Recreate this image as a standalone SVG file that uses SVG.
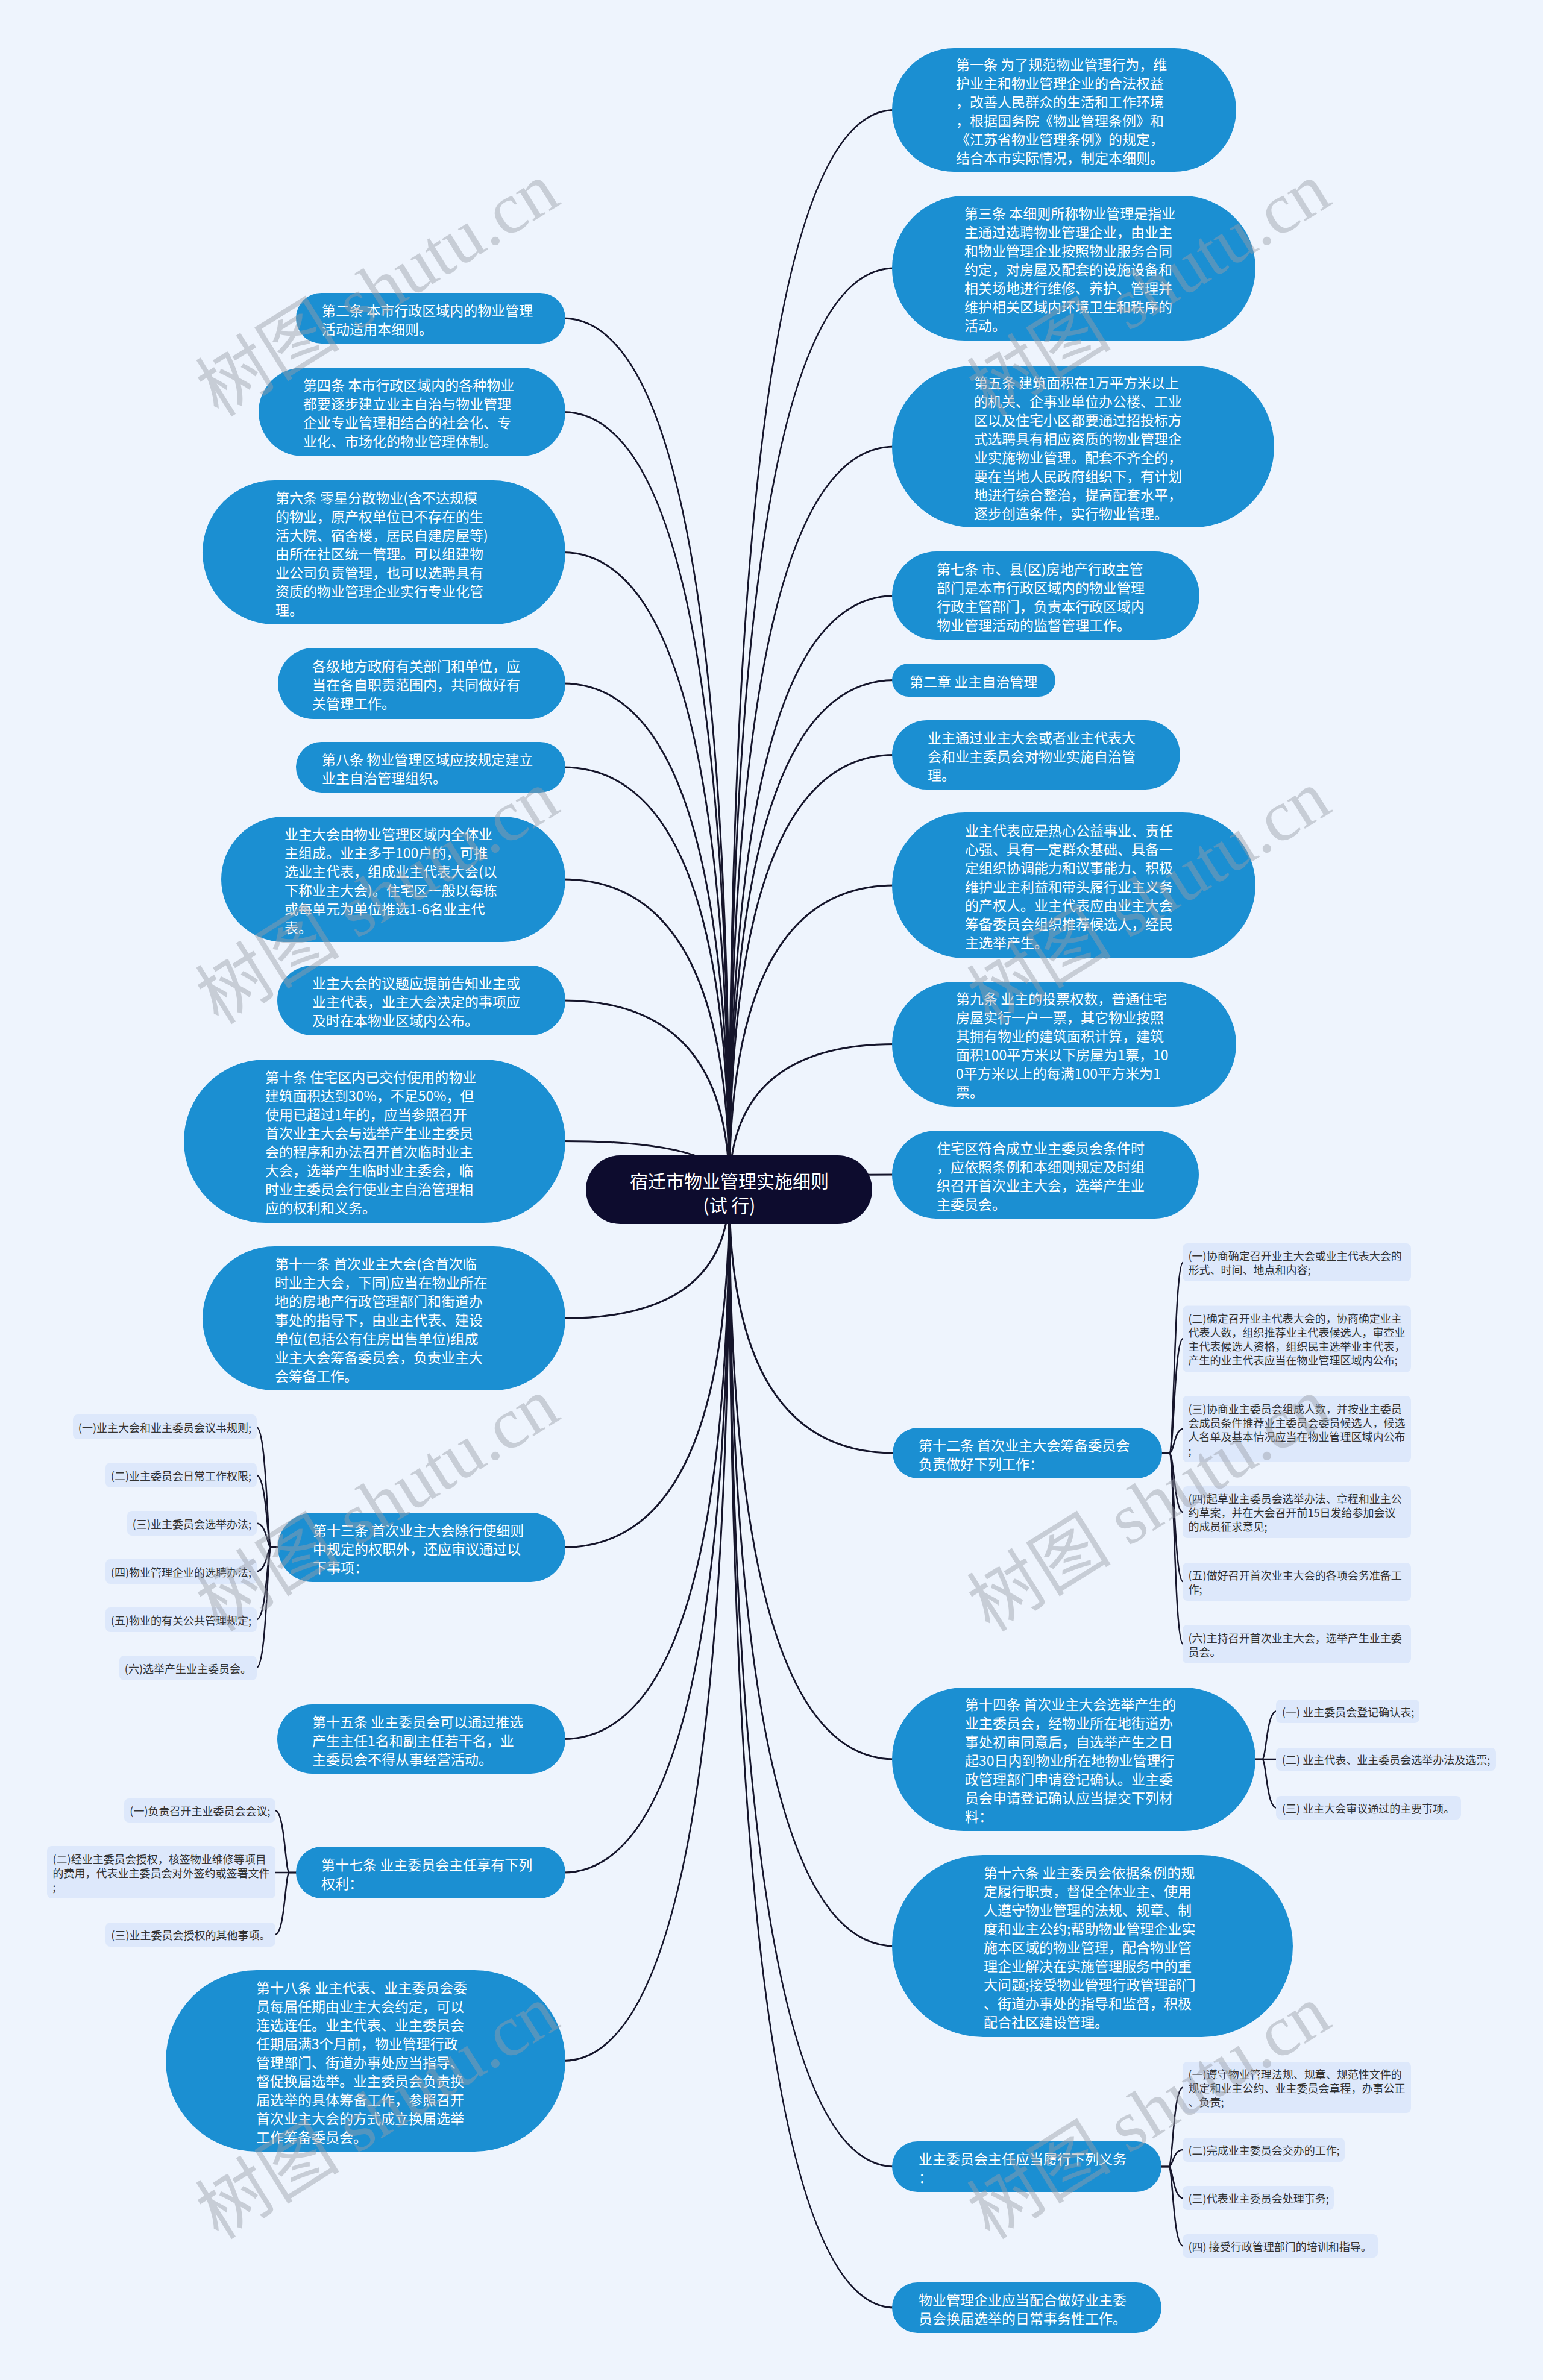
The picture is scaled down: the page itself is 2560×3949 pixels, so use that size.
<svg xmlns="http://www.w3.org/2000/svg" width="2560" height="3949" viewBox="0 0 2560 3949">
<style>
.bg{fill:#eef4fd}
.nd{fill:#1b8fd2}
.rt{fill:#0d0c2e}
.cb{fill:#dde8fb}
.ln{fill:none;stroke:#15152b;stroke-width:3;stroke-linecap:round}
.bl{fill:none;stroke:#15152b;stroke-width:2.5;stroke-linecap:round}
text{font-family:"Noto Sans CJK SC","Noto Sans",sans-serif;dominant-baseline:central}
.nt{fill:#ffffff;font-size:23px}
.rtt{fill:#ffffff;font-size:30px;text-anchor:middle}
.ct{fill:#333333;font-size:18px}
.ce{fill:#333333;font-size:18px;text-anchor:end}
.wm{font-family:"Liberation Serif","Noto Sans CJK SC",serif;font-size:120px;fill:#9a9ea8;opacity:0.45;text-anchor:middle;dominant-baseline:alphabetic}
</style>
<rect class="bg" x="0" y="0" width="2560" height="3949"/>
<g id="connectors">
<path class="ln" d="M1210 1974 Q1210 182.5 1484 182.5"/>
<path class="ln" d="M1210 1974 Q1210 445 1484 445"/>
<path class="ln" d="M1210 1974 Q1210 741 1484 741"/>
<path class="ln" d="M1210 1974 Q1210 988.5 1484 988.5"/>
<path class="ln" d="M1210 1974 Q1210 1128.5 1484 1128.5"/>
<path class="ln" d="M1210 1974 Q1210 1252.5 1484 1252.5"/>
<path class="ln" d="M1210 1974 Q1210 1469 1484 1469"/>
<path class="ln" d="M1210 1974 Q1210 1732.5 1484 1732.5"/>
<path class="ln" d="M1210 1974 Q1210 1949 1484 1949"/>
<path class="ln" d="M1210 1974 Q1210 2411 1484 2411"/>
<path class="ln" d="M1210 1974 Q1210 2919 1484 2919"/>
<path class="ln" d="M1210 1974 Q1210 3229 1484 3229"/>
<path class="ln" d="M1210 1974 Q1210 3595 1484 3595"/>
<path class="ln" d="M1210 1974 Q1210 3829 1484 3829"/>
<path class="ln" d="M1210 1974 Q1210 528 934 528"/>
<path class="ln" d="M1210 1974 Q1210 683.5 934 683.5"/>
<path class="ln" d="M1210 1974 Q1210 916.5 934 916.5"/>
<path class="ln" d="M1210 1974 Q1210 1134 934 1134"/>
<path class="ln" d="M1210 1974 Q1210 1273 934 1273"/>
<path class="ln" d="M1210 1974 Q1210 1459 934 1459"/>
<path class="ln" d="M1210 1974 Q1210 1660 934 1660"/>
<path class="ln" d="M1210 1974 Q1210 1893.5 934 1893.5"/>
<path class="ln" d="M1210 1974 Q1210 2187.5 934 2187.5"/>
<path class="ln" d="M1210 1974 Q1210 2567.5 934 2567.5"/>
<path class="ln" d="M1210 1974 Q1210 2885.5 934 2885.5"/>
<path class="ln" d="M1210 1974 Q1210 3107 934 3107"/>
<path class="ln" d="M1210 1974 Q1210 3419.5 934 3419.5"/>
<path class="bl" d="M1926 2411 H1940 C1948 2411 1948 2094.5 1963 2094.5"/>
<path class="bl" d="M1926 2411 H1940 C1948 2411 1948 2221 1963 2221"/>
<path class="bl" d="M1926 2411 H1940 C1948 2411 1948 2371 1963 2371"/>
<path class="bl" d="M1926 2411 H1940 C1948 2411 1948 2509 1963 2509"/>
<path class="bl" d="M1926 2411 H1940 C1948 2411 1948 2624.5 1963 2624.5"/>
<path class="bl" d="M1926 2411 H1940 C1948 2411 1948 2728 1963 2728"/>
<path class="bl" d="M2081 2919 H2094 C2101 2919 2101 2839.5 2118 2839.5"/>
<path class="bl" d="M2081 2919 H2118"/>
<path class="bl" d="M2081 2919 H2094 C2101 2919 2101 2999.5 2118 2999.5"/>
<path class="bl" d="M1925 3595 H1939 C1946 3595 1946 3463.5 1963 3463.5"/>
<path class="bl" d="M1925 3595 H1939 C1946 3595 1946 3567 1963 3567"/>
<path class="bl" d="M1925 3595 H1939 C1946 3595 1946 3647 1963 3647"/>
<path class="bl" d="M1925 3595 H1939 C1946 3595 1946 3726.5 1963 3726.5"/>
<path class="bl" d="M463 2567.5 H450 C443 2567.5 443 2367.5 425 2367.5"/>
<path class="bl" d="M463 2567.5 H450 C443 2567.5 443 2447.5 425 2447.5"/>
<path class="bl" d="M463 2567.5 H450 C443 2567.5 443 2527.5 425 2527.5"/>
<path class="bl" d="M463 2567.5 H450 C443 2567.5 443 2607.5 425 2607.5"/>
<path class="bl" d="M463 2567.5 H450 C443 2567.5 443 2687.5 425 2687.5"/>
<path class="bl" d="M463 2567.5 H450 C443 2567.5 443 2767.5 425 2767.5"/>
<path class="bl" d="M493 3107 H480 C473 3107 473 3004 456 3004"/>
<path class="bl" d="M493 3107 H456"/>
<path class="bl" d="M493 3107 H480 C473 3107 473 3210 456 3210"/>
</g>
<g id="root">
<rect class="rt" x="972" y="1917" width="475" height="114" rx="57"/>
<text class="rtt"><tspan x="1210" y="1958">宿迁市物业管理实施细则</tspan><tspan x="1210" y="1998">(试 行)</tspan></text>
</g>
<g id="r1">
<rect class="nd" x="1480" y="80" width="571" height="205" rx="102.5"/>
<text class="nt"><tspan x="1586" y="106">第一条 为了规范物业管理行为，维</tspan><tspan x="1586" y="137">护业主和物业管理企业的合法权益</tspan><tspan x="1586" y="168">，改善人民群众的生活和工作环境</tspan><tspan x="1586" y="199">，根据国务院《物业管理条例》和</tspan><tspan x="1586" y="230">《江苏省物业管理条例》的规定，</tspan><tspan x="1586" y="261">结合本市实际情况，制定本细则。</tspan></text>
</g>
<g id="r2">
<rect class="nd" x="1480" y="325" width="603" height="240" rx="120"/>
<text class="nt"><tspan x="1600" y="353">第三条 本细则所称物业管理是指业</tspan><tspan x="1600" y="384">主通过选聘物业管理企业，由业主</tspan><tspan x="1600" y="415">和物业管理企业按照物业服务合同</tspan><tspan x="1600" y="446">约定，对房屋及配套的设施设备和</tspan><tspan x="1600" y="477">相关场地进行维修、养护、管理并</tspan><tspan x="1600" y="508">维护相关区域内环境卫生和秩序的</tspan><tspan x="1600" y="539">活动。</tspan></text>
</g>
<g id="r3">
<rect class="nd" x="1480" y="607" width="634" height="268" rx="134"/>
<text class="nt"><tspan x="1616" y="633.5">第五条 建筑面积在1万平方米以上</tspan><tspan x="1616" y="664.5">的机关、企事业单位办公楼、工业</tspan><tspan x="1616" y="695.5">区以及住宅小区都要通过招投标方</tspan><tspan x="1616" y="726.5">式选聘具有相应资质的物业管理企</tspan><tspan x="1616" y="757.5">业实施物业管理。配套不齐全的，</tspan><tspan x="1616" y="788.5">要在当地人民政府组织下，有计划</tspan><tspan x="1616" y="819.5">地进行综合整治，提高配套水平，</tspan><tspan x="1616" y="850.5">逐步创造条件，实行物业管理。</tspan></text>
</g>
<g id="r4">
<rect class="nd" x="1480" y="915" width="510" height="147" rx="73.5"/>
<text class="nt"><tspan x="1554" y="943">第七条 市、县(区)房地产行政主管</tspan><tspan x="1554" y="974">部门是本市行政区域内的物业管理</tspan><tspan x="1554" y="1005">行政主管部门，负责本行政区域内</tspan><tspan x="1554" y="1036">物业管理活动的监督管理工作。</tspan></text>
</g>
<g id="r5">
<rect class="nd" x="1480" y="1101" width="271" height="55" rx="27.5"/>
<text class="nt"><tspan x="1509" y="1129.5">第二章 业主自治管理</tspan></text>
</g>
<g id="r6">
<rect class="nd" x="1480" y="1195" width="478" height="115" rx="57.5"/>
<text class="nt"><tspan x="1539" y="1222.5">业主通过业主大会或者业主代表大</tspan><tspan x="1539" y="1253.5">会和业主委员会对物业实施自治管</tspan><tspan x="1539" y="1284.5">理。</tspan></text>
</g>
<g id="r7">
<rect class="nd" x="1480" y="1348" width="603" height="242" rx="121"/>
<text class="nt"><tspan x="1601" y="1377">业主代表应是热心公益事业、责任</tspan><tspan x="1601" y="1408">心强、具有一定群众基础、具备一</tspan><tspan x="1601" y="1439">定组织协调能力和议事能力、积极</tspan><tspan x="1601" y="1470">维护业主利益和带头履行业主义务</tspan><tspan x="1601" y="1501">的产权人。业主代表应由业主大会</tspan><tspan x="1601" y="1532">筹备委员会组织推荐候选人，经民</tspan><tspan x="1601" y="1563">主选举产生。</tspan></text>
</g>
<g id="r8">
<rect class="nd" x="1480" y="1629" width="571" height="207" rx="103.5"/>
<text class="nt"><tspan x="1586" y="1656">第九条 业主的投票权数，普通住宅</tspan><tspan x="1586" y="1687">房屋实行一户一票，其它物业按照</tspan><tspan x="1586" y="1718">其拥有物业的建筑面积计算，建筑</tspan><tspan x="1586" y="1749">面积100平方米以下房屋为1票，10</tspan><tspan x="1586" y="1780">0平方米以上的每满100平方米为1</tspan><tspan x="1586" y="1811">票。</tspan></text>
</g>
<g id="r9">
<rect class="nd" x="1480" y="1876" width="509" height="146" rx="73"/>
<text class="nt"><tspan x="1554" y="1903.5">住宅区符合成立业主委员会条件时</tspan><tspan x="1554" y="1934.5">，应依照条例和本细则规定及时组</tspan><tspan x="1554" y="1965.5">织召开首次业主大会，选举产生业</tspan><tspan x="1554" y="1996.5">主委员会。</tspan></text>
</g>
<g id="r10">
<rect class="nd" x="1481" y="2369" width="447" height="84" rx="42"/>
<text class="nt"><tspan x="1524" y="2396.5">第十二条 首次业主大会筹备委员会</tspan><tspan x="1524" y="2427.5">负责做好下列工作：</tspan></text>
</g>
<g id="r10c1">
<rect class="cb" x="1962" y="2063" width="379" height="63" rx="8"/>
<text class="ct"><tspan x="1971.5" y="2083">(一)协商确定召开业主大会或业主代表大会的</tspan><tspan x="1971.5" y="2106">形式、时间、地点和内容;</tspan></text>
</g>
<g id="r10c2">
<rect class="cb" x="1962" y="2166.5" width="379" height="110" rx="8"/>
<text class="ct"><tspan x="1971.5" y="2187">(二)确定召开业主代表大会的，协商确定业主</tspan><tspan x="1971.5" y="2210">代表人数，组织推荐业主代表候选人，审查业</tspan><tspan x="1971.5" y="2233">主代表候选人资格，组织民主选举业主代表，</tspan><tspan x="1971.5" y="2256">产生的业主代表应当在物业管理区域内公布;</tspan></text>
</g>
<g id="r10c3">
<rect class="cb" x="1962" y="2316" width="379" height="110" rx="8"/>
<text class="ct"><tspan x="1971.5" y="2336.5">(三)协商业主委员会组成人数，并按业主委员</tspan><tspan x="1971.5" y="2359.5">会成员条件推荐业主委员会委员候选人，候选</tspan><tspan x="1971.5" y="2382.5">人名单及基本情况应当在物业管理区域内公布</tspan><tspan x="1971.5" y="2405.5">;</tspan></text>
</g>
<g id="r10c4">
<rect class="cb" x="1962" y="2466" width="379" height="86" rx="8"/>
<text class="ct"><tspan x="1971.5" y="2486">(四)起草业主委员会选举办法、章程和业主公</tspan><tspan x="1971.5" y="2509">约草案，并在大会召开前15日发给参加会议</tspan><tspan x="1971.5" y="2532">的成员征求意见;</tspan></text>
</g>
<g id="r10c5">
<rect class="cb" x="1962" y="2593" width="379" height="63" rx="8"/>
<text class="ct"><tspan x="1971.5" y="2613">(五)做好召开首次业主大会的各项会务准备工</tspan><tspan x="1971.5" y="2636">作;</tspan></text>
</g>
<g id="r10c6">
<rect class="cb" x="1962" y="2696" width="379" height="64" rx="8"/>
<text class="ct"><tspan x="1971.5" y="2716.5">(六)主持召开首次业主大会，选举产生业主委</tspan><tspan x="1971.5" y="2739.5">员会。</tspan></text>
</g>
<g id="r11">
<rect class="nd" x="1480" y="2800" width="603" height="238" rx="119"/>
<text class="nt"><tspan x="1601" y="2827">第十四条 首次业主大会选举产生的</tspan><tspan x="1601" y="2858">业主委员会，经物业所在地街道办</tspan><tspan x="1601" y="2889">事处初审同意后，自选举产生之日</tspan><tspan x="1601" y="2920">起30日内到物业所在地物业管理行</tspan><tspan x="1601" y="2951">政管理部门申请登记确认。业主委</tspan><tspan x="1601" y="2982">员会申请登记确认应当提交下列材</tspan><tspan x="1601" y="3013">料：</tspan></text>
</g>
<g id="r11c1">
<rect class="cb" x="2117" y="2820" width="238" height="39" rx="8"/>
<text class="ct"><tspan x="2127" y="2839.5">(一) 业主委员会登记确认表;</tspan></text>
</g>
<g id="r11c2">
<rect class="cb" x="2117" y="2900" width="365" height="38" rx="8"/>
<text class="ct"><tspan x="2127" y="2919">(二) 业主代表、业主委员会选举办法及选票;</tspan></text>
</g>
<g id="r11c3">
<rect class="cb" x="2117" y="2980" width="307" height="39" rx="8"/>
<text class="ct"><tspan x="2127" y="2999.5">(三) 业主大会审议通过的主要事项。</tspan></text>
</g>
<g id="r12">
<rect class="nd" x="1480" y="3078" width="665" height="302" rx="151"/>
<text class="nt"><tspan x="1632" y="3106">第十六条 业主委员会依据条例的规</tspan><tspan x="1632" y="3137">定履行职责，督促全体业主、使用</tspan><tspan x="1632" y="3168">人遵守物业管理的法规、规章、制</tspan><tspan x="1632" y="3199">度和业主公约;帮助物业管理企业实</tspan><tspan x="1632" y="3230">施本区域的物业管理，配合物业管</tspan><tspan x="1632" y="3261">理企业解决在实施管理服务中的重</tspan><tspan x="1632" y="3292">大问题;接受物业管理行政管理部门</tspan><tspan x="1632" y="3323">、街道办事处的指导和监督，积极</tspan><tspan x="1632" y="3354">配合社区建设管理。</tspan></text>
</g>
<g id="r13">
<rect class="nd" x="1480" y="3553" width="447" height="84" rx="42"/>
<text class="nt"><tspan x="1524" y="3580.5">业主委员会主任应当履行下列义务</tspan><tspan x="1524" y="3611.5">：</tspan></text>
</g>
<g id="r13c1">
<rect class="cb" x="1962" y="3421" width="379" height="85" rx="8"/>
<text class="ct"><tspan x="1971.5" y="3440.5">(一)遵守物业管理法规、规章、规范性文件的</tspan><tspan x="1971.5" y="3463.5">规定和业主公约、业主委员会章程，办事公正</tspan><tspan x="1971.5" y="3486.5">、负责;</tspan></text>
</g>
<g id="r13c2">
<rect class="cb" x="1962" y="3547" width="269" height="40" rx="8"/>
<text class="ct"><tspan x="1971.5" y="3567">(二)完成业主委员会交办的工作;</tspan></text>
</g>
<g id="r13c3">
<rect class="cb" x="1962" y="3627" width="251" height="40" rx="8"/>
<text class="ct"><tspan x="1971.5" y="3647">(三)代表业主委员会处理事务;</tspan></text>
</g>
<g id="r13c4">
<rect class="cb" x="1962" y="3707" width="324" height="39" rx="8"/>
<text class="ct"><tspan x="1971.5" y="3726.5">(四) 接受行政管理部门的培训和指导。</tspan></text>
</g>
<g id="r14">
<rect class="nd" x="1480" y="3787" width="447" height="84" rx="42"/>
<text class="nt"><tspan x="1524" y="3814.5">物业管理企业应当配合做好业主委</tspan><tspan x="1524" y="3845.5">员会换届选举的日常事务性工作。</tspan></text>
</g>
<g id="l1">
<rect class="nd" x="491" y="486" width="447" height="84" rx="42"/>
<text class="nt"><tspan x="534" y="513.5">第二条 本市行政区域内的物业管理</tspan><tspan x="534" y="544.5">活动适用本细则。</tspan></text>
</g>
<g id="l2">
<rect class="nd" x="429" y="610" width="509" height="147" rx="73.5"/>
<text class="nt"><tspan x="503" y="638">第四条 本市行政区域内的各种物业</tspan><tspan x="503" y="669">都要逐步建立业主自治与物业管理</tspan><tspan x="503" y="700">企业专业管理相结合的社会化、专</tspan><tspan x="503" y="731">业化、市场化的物业管理体制。</tspan></text>
</g>
<g id="l3">
<rect class="nd" x="336" y="797" width="602" height="239" rx="119.5"/>
<text class="nt"><tspan x="457" y="824.5">第六条 零星分散物业(含不达规模</tspan><tspan x="457" y="855.5">的物业，原产权单位已不存在的生</tspan><tspan x="457" y="886.5">活大院、宿舍楼，居民自建房屋等)</tspan><tspan x="457" y="917.5">由所在社区统一管理。可以组建物</tspan><tspan x="457" y="948.5">业公司负责管理，也可以选聘具有</tspan><tspan x="457" y="979.5">资质的物业管理企业实行专业化管</tspan><tspan x="457" y="1010.5">理。</tspan></text>
</g>
<g id="l4">
<rect class="nd" x="461" y="1075" width="477" height="118" rx="59"/>
<text class="nt"><tspan x="518" y="1104">各级地方政府有关部门和单位，应</tspan><tspan x="518" y="1135">当在各自职责范围内，共同做好有</tspan><tspan x="518" y="1166">关管理工作。</tspan></text>
</g>
<g id="l5">
<rect class="nd" x="491" y="1231" width="447" height="84" rx="42"/>
<text class="nt"><tspan x="534" y="1258.5">第八条 物业管理区域应按规定建立</tspan><tspan x="534" y="1289.5">业主自治管理组织。</tspan></text>
</g>
<g id="l6">
<rect class="nd" x="367" y="1355" width="571" height="208" rx="104"/>
<text class="nt"><tspan x="472" y="1382.5">业主大会由物业管理区域内全体业</tspan><tspan x="472" y="1413.5">主组成。业主多于100户的，可推</tspan><tspan x="472" y="1444.5">选业主代表，组成业主代表大会(以</tspan><tspan x="472" y="1475.5">下称业主大会)。住宅区一般以每栋</tspan><tspan x="472" y="1506.5">或每单元为单位推选1-6名业主代</tspan><tspan x="472" y="1537.5">表。</tspan></text>
</g>
<g id="l7">
<rect class="nd" x="460" y="1602" width="478" height="116" rx="58"/>
<text class="nt"><tspan x="518" y="1630">业主大会的议题应提前告知业主或</tspan><tspan x="518" y="1661">业主代表，业主大会决定的事项应</tspan><tspan x="518" y="1692">及时在本物业区域内公布。</tspan></text>
</g>
<g id="l8">
<rect class="nd" x="305" y="1758" width="633" height="271" rx="135.5"/>
<text class="nt"><tspan x="440" y="1786">第十条 住宅区内已交付使用的物业</tspan><tspan x="440" y="1817">建筑面积达到30%，不足50%，但</tspan><tspan x="440" y="1848">使用已超过1年的，应当参照召开</tspan><tspan x="440" y="1879">首次业主大会与选举产生业主委员</tspan><tspan x="440" y="1910">会的程序和办法召开首次临时业主</tspan><tspan x="440" y="1941">大会，选举产生临时业主委会，临</tspan><tspan x="440" y="1972">时业主委员会行使业主自治管理相</tspan><tspan x="440" y="2003">应的权利和义务。</tspan></text>
</g>
<g id="l9">
<rect class="nd" x="336" y="2068" width="602" height="239" rx="119.5"/>
<text class="nt"><tspan x="456" y="2095.5">第十一条 首次业主大会(含首次临</tspan><tspan x="456" y="2126.5">时业主大会，下同)应当在物业所在</tspan><tspan x="456" y="2157.5">地的房地产行政管理部门和街道办</tspan><tspan x="456" y="2188.5">事处的指导下，由业主代表、建设</tspan><tspan x="456" y="2219.5">单位(包括公有住房出售单位)组成</tspan><tspan x="456" y="2250.5">业主大会筹备委员会，负责业主大</tspan><tspan x="456" y="2281.5">会筹备工作。</tspan></text>
</g>
<g id="l10">
<rect class="nd" x="461" y="2510" width="477" height="115" rx="57.5"/>
<text class="nt"><tspan x="519" y="2537.5">第十三条 首次业主大会除行使细则</tspan><tspan x="519" y="2568.5">中规定的权职外，还应审议通过以</tspan><tspan x="519" y="2599.5">下事项：</tspan></text>
</g>
<g id="l10c1">
<rect class="cb" x="121" y="2347" width="305" height="41" rx="8"/>
<text class="ce"><tspan x="417" y="2367.5">(一)业主大会和业主委员会议事规则;</tspan></text>
</g>
<g id="l10c2">
<rect class="cb" x="175" y="2427" width="251" height="41" rx="8"/>
<text class="ce"><tspan x="417" y="2447.5">(二)业主委员会日常工作权限;</tspan></text>
</g>
<g id="l10c3">
<rect class="cb" x="211" y="2507" width="215" height="41" rx="8"/>
<text class="ce"><tspan x="417" y="2527.5">(三)业主委员会选举办法;</tspan></text>
</g>
<g id="l10c4">
<rect class="cb" x="175" y="2587" width="251" height="41" rx="8"/>
<text class="ce"><tspan x="417" y="2607.5">(四)物业管理企业的选聘办法;</tspan></text>
</g>
<g id="l10c5">
<rect class="cb" x="175" y="2667" width="251" height="41" rx="8"/>
<text class="ce"><tspan x="417" y="2687.5">(五)物业的有关公共管理规定;</tspan></text>
</g>
<g id="l10c6">
<rect class="cb" x="198" y="2747" width="228" height="41" rx="8"/>
<text class="ce"><tspan x="417" y="2767.5">(六)选举产生业主委员会。</tspan></text>
</g>
<g id="l11">
<rect class="nd" x="460" y="2828" width="478" height="115" rx="57.5"/>
<text class="nt"><tspan x="518" y="2855.5">第十五条 业主委员会可以通过推选</tspan><tspan x="518" y="2886.5">产生主任1名和副主任若干名，业</tspan><tspan x="518" y="2917.5">主委员会不得从事经营活动。</tspan></text>
</g>
<g id="l12">
<rect class="nd" x="491" y="3064" width="447" height="86" rx="43"/>
<text class="nt"><tspan x="533" y="3092.5">第十七条 业主委员会主任享有下列</tspan><tspan x="533" y="3123.5">权利：</tspan></text>
</g>
<g id="l12c1">
<rect class="cb" x="206" y="2984" width="251" height="40" rx="8"/>
<text class="ce"><tspan x="448.5" y="3004">(一)负责召开主业委员会会议;</tspan></text>
</g>
<g id="l12c2">
<rect class="cb" x="78" y="3063" width="379" height="87" rx="8"/>
<text class="ct"><tspan x="87.5" y="3083.5">(二)经业主委员会授权，核签物业维修等项目</tspan><tspan x="87.5" y="3106.5">的费用，代表业主委员会对外签约或签署文件</tspan><tspan x="87.5" y="3129.5">;</tspan></text>
</g>
<g id="l12c3">
<rect class="cb" x="175" y="3190" width="282" height="40" rx="8"/>
<text class="ce"><tspan x="448.5" y="3210">(三)业主委员会授权的其他事项。</tspan></text>
</g>
<g id="l13">
<rect class="nd" x="275" y="3269" width="663" height="301" rx="150.5"/>
<text class="nt"><tspan x="425" y="3296.5">第十八条 业主代表、业主委员会委</tspan><tspan x="425" y="3327.5">员每届任期由业主大会约定，可以</tspan><tspan x="425" y="3358.5">连选连任。业主代表、业主委员会</tspan><tspan x="425" y="3389.5">任期届满3个月前，物业管理行政</tspan><tspan x="425" y="3420.5">管理部门、街道办事处应当指导、</tspan><tspan x="425" y="3451.5">督促换届选举。业主委员会负责换</tspan><tspan x="425" y="3482.5">届选举的具体筹备工作，参照召开</tspan><tspan x="425" y="3513.5">首次业主大会的方式成立换届选举</tspan><tspan x="425" y="3544.5">工作筹备委员会。</tspan></text>
</g>
<g id="watermarks">
<text class="wm" x="648" y="515" transform="rotate(-32 648 515)">树图 shutu.cn</text>
<text class="wm" x="1928" y="515" transform="rotate(-32 1928 515)">树图 shutu.cn</text>
<text class="wm" x="648" y="1523" transform="rotate(-32 648 1523)">树图 shutu.cn</text>
<text class="wm" x="1928" y="1523" transform="rotate(-32 1928 1523)">树图 shutu.cn</text>
<text class="wm" x="648" y="2531" transform="rotate(-32 648 2531)">树图 shutu.cn</text>
<text class="wm" x="1928" y="2531" transform="rotate(-32 1928 2531)">树图 shutu.cn</text>
<text class="wm" x="648" y="3539" transform="rotate(-32 648 3539)">树图 shutu.cn</text>
<text class="wm" x="1928" y="3539" transform="rotate(-32 1928 3539)">树图 shutu.cn</text>
</g>
</svg>
